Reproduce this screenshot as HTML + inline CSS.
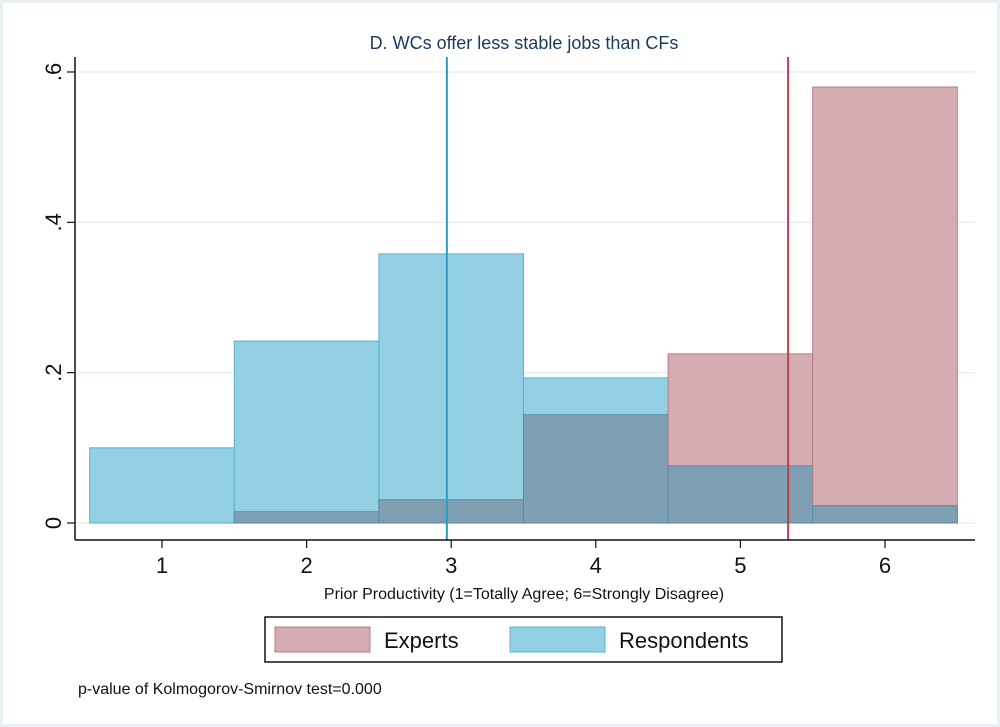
<!DOCTYPE html>
<html><head><meta charset="utf-8"><style>
body{margin:0;background:#fff;font-family:"Liberation Sans",Arial,sans-serif;}
#wrap{position:relative;width:1000px;height:727px;background:#fff;}
svg{position:absolute;left:0;top:0;}
</style></head><body>
<div id="wrap">
<svg id="chart" width="1000" height="727">
<rect x="1.5" y="1.5" width="997" height="724" fill="#fff" stroke="#e8f0f3" stroke-width="3"/>
<text x="524" y="49" font-size="18" text-anchor="middle" fill="#1a3a5a">D. WCs offer less stable jobs than CFs</text>
<g id="grid"></g><g id="bars"></g><g id="lines"></g><g id="axes"></g>
<text x="524" y="599" font-size="16" text-anchor="middle" fill="#111">Prior Productivity (1=Totally Agree; 6=Strongly Disagree)</text>
<rect x="265" y="617" width="517" height="45" fill="#fff" stroke="#111" stroke-width="1.5"/>
<rect x="275" y="627" width="95" height="25" fill="#d4acb1" stroke="#b87c85"/>
<text x="384" y="648" font-size="22" fill="#111">Experts</text>
<rect x="510" y="627" width="95" height="25" fill="#93d0e3" stroke="#5ab1d0"/>
<text x="619" y="648" font-size="22" fill="#111">Respondents</text>
<text x="78" y="694" font-size="16" fill="#111">p-value of Kolmogorov-Smirnov test=0.000</text>
</svg></div>
<script>
const categories=[1,2,3,4,5,6];
const respondents=[0.100,0.242,0.358,0.193,0.076,0.023];
const experts=[0.000,0.015,0.031,0.144,0.225,0.580];
const yTicks=[0,0.2,0.4,0.6];
const yTickLabels=["0",".2",".4",".6"];
const respondentsMean=2.97;
const expertsMean=5.33;
const NS="http://www.w3.org/2000/svg";
const X=v=>162+(v-1)*144.6;
const Y=v=>523-v*751.7;
function mk(tag,attrs,parent){const e=document.createElementNS(NS,tag);for(const k in attrs)e.setAttribute(k,attrs[k]);document.getElementById(parent).appendChild(e);return e;}
yTicks.forEach((t,i)=>{
  const g=mk('line',{x1:75,x2:975,y1:Y(t),y2:Y(t),stroke:'#e6f0f2','stroke-width':1.5},'grid');
  
  
  const tk=mk('line',{x1:67,x2:75,y1:Y(t),y2:Y(t),stroke:'#111','stroke-width':1.2},'axes');
  
  
  const tx=mk('text',{x:0,y:0,'font-size':22,fill:'#111','text-anchor':'middle',transform:`translate(61,${Y(t)}) rotate(-90)`},'axes');
  tx.textContent=yTickLabels[i];
  
  
});
categories.forEach((c,i)=>{
  const x0=X(c-0.5),w=X(c+0.5)-x0;
  if(experts[i]>0){
    const r=mk('rect',{x:x0,y:Y(experts[i]),width:w,height:Y(0)-Y(experts[i]),fill:'#d4acb1',stroke:'#b87c85','stroke-width':1},'bars');
    
    
  }
  const r2=mk('rect',{x:x0,y:Y(respondents[i]),width:w,height:Y(0)-Y(respondents[i]),fill:'#93d0e3',stroke:'#5ab1d0','stroke-width':1},'bars');
  
  
  const m=Math.min(experts[i],respondents[i]);
  if(m>0){
    const o=mk('rect',{x:x0,y:Y(m),width:w,height:Y(0)-Y(m),fill:'#7f9fb2',stroke:'#5f8aa2','stroke-width':1},'bars');
    
    
  }
  const tk=mk('line',{x1:X(c),x2:X(c),y1:540,y2:548,stroke:'#111','stroke-width':1.2},'axes');
  
  
  const tx=mk('text',{x:X(c),y:573,'font-size':22,fill:'#111','text-anchor':'middle'},'axes');
  tx.textContent=c;
  
  
});
const l1=mk('line',{x1:X(respondentsMean),x2:X(respondentsMean),y1:57,y2:540,stroke:'#2b9cc8','stroke-width':2},'lines');


const l2=mk('line',{x1:X(expertsMean),x2:X(expertsMean),y1:57,y2:540,stroke:'#b24450','stroke-width':2},'lines');


const ya=mk('line',{x1:75,x2:75,y1:57,y2:540,stroke:'#111','stroke-width':1.5},'axes');


const xa=mk('line',{x1:75,x2:975,y1:540,y2:540,stroke:'#111','stroke-width':1.5},'axes');


</script>
</body></html>
